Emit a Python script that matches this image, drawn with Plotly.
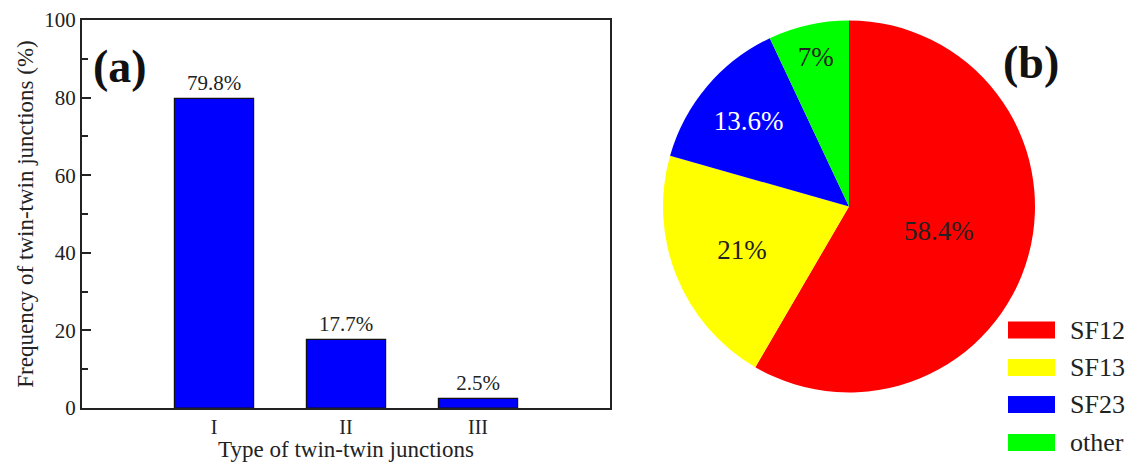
import plotly.graph_objects as go

# ---- data ----
junction_types = ["I", "II", "III"]
junction_freq = [79.8, 17.7, 2.5]

sf_labels = ["SF12", "SF13", "SF23", "other"]
sf_values = [58.4, 21, 13.6, 7]
sf_colors = ["#ff0000", "#ffff00", "#0000ff", "#00ff00"]
sf_text_colors = ["#222222", "#222222", "#ffffff", "#222222"]

W, H = 1133, 462
FONT = "Liberation Serif, Times New Roman, serif"
INK = "#222222"

def px(x):
    return x / W

def py(y):
    return (H - y) / H

fig = go.Figure()

fig.add_trace(go.Bar(
    x=junction_types, y=junction_freq,
    width=0.6,
    marker=dict(color="#0000ff", line=dict(color="#111111", width=1.2)),
    text=[f"{v:g}%" for v in junction_freq],
    textposition="outside",
    textfont=dict(family=FONT, size=21, color=INK),
    cliponaxis=False,
    showlegend=False,
))

fig.add_trace(go.Pie(
    labels=sf_labels, values=sf_values,
    sort=False, direction="clockwise", rotation=0,
    marker=dict(colors=sf_colors, line=dict(width=0)),
    text=[f"{v:g}%" for v in sf_values],
    textinfo="text",
    textposition="inside",
    insidetextorientation="horizontal",
    textfont=dict(family=FONT, size=27, color=sf_text_colors),
    domain=dict(x=[px(663), px(1035)], y=[py(393), py(20)]),
    showlegend=False,
    hoverinfo="label+percent",
))

# legend drawn with swatches
shapes = []
annotations = []
row_centers = [330, 367.5, 404.5, 442.5]
for lab, col, yc in zip(sf_labels, sf_colors, row_centers):
    shapes.append(dict(type="rect", xref="paper", yref="paper",
                       x0=px(1008), x1=px(1055), y0=py(yc + 8.5), y1=py(yc - 8.5),
                       fillcolor=col, line=dict(width=0)))
    annotations.append(dict(x=px(1068), y=py(yc), xref="paper", yref="paper",
                            text=lab, showarrow=False, xanchor="left", yanchor="middle",
                            font=dict(family=FONT, size=26, color=INK)))

annotations.append(dict(x=px(120), y=py(66), xref="paper", yref="paper", text="<b>(a)</b>",
                        showarrow=False, xanchor="center", yanchor="middle",
                        font=dict(family=FONT, size=46, color="#111111")))
annotations.append(dict(x=px(1031), y=py(62), xref="paper", yref="paper", text="<b>(b)</b>",
                        showarrow=False, xanchor="center", yanchor="middle",
                        font=dict(family=FONT, size=46, color="#111111")))

fig.update_layout(
    width=W, height=H,
    margin=dict(l=0, r=0, t=0, b=0, autoexpand=False),
    paper_bgcolor="white", plot_bgcolor="white",
    font=dict(family=FONT, color=INK),
    shapes=shapes,
    annotations=annotations,
    xaxis=dict(
        domain=[px(82), px(610)],
        range=[-1, 3],
        automargin=False,
        showline=True, linecolor=INK, linewidth=2, mirror=True,
        ticks="", showgrid=False, zeroline=False,
        ticklabelstandoff=0,
        tickfont=dict(family=FONT, size=20, color=INK),
        title=dict(text="Type of twin-twin junctions", font=dict(family=FONT, size=23, color=INK), standoff=0),
    ),
    yaxis=dict(
        domain=[py(408), py(20)],
        range=[0, 100],
        automargin=False,
        tickvals=[0, 20, 40, 60, 80, 100],
        showline=True, linecolor=INK, linewidth=2, mirror=True,
        ticks="inside", ticklen=9, tickwidth=1.5, tickcolor=INK,
        minor=dict(ticks="inside", ticklen=6, tickwidth=1.5, tickcolor=INK, dtick=10, showgrid=False),
        showgrid=False, zeroline=False,
        tickfont=dict(family=FONT, size=21, color=INK),
        title=dict(text="Frequency of twin-twin junctions (%)", font=dict(family=FONT, size=23, color=INK), standoff=4),
    ),
)

fig.write_html("out.html", config={"displayModeBar": False},
               post_script="document.body.style.margin='0px';")
